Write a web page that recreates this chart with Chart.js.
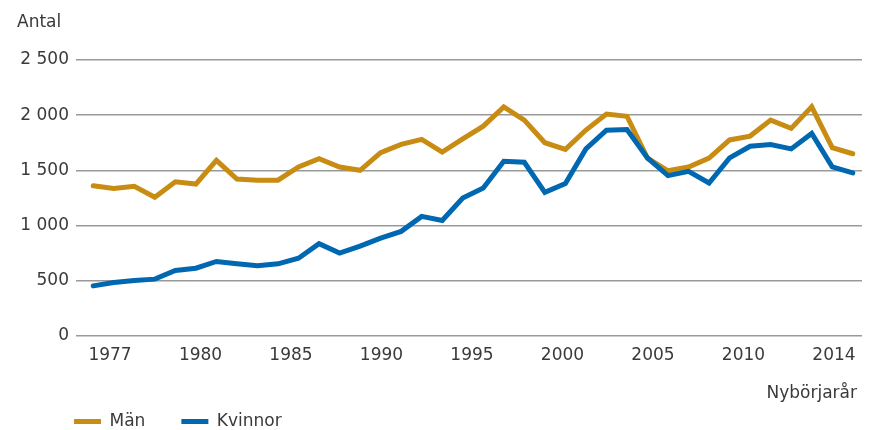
<!DOCTYPE html>
<html>
<head>
<meta charset="utf-8">
<script src="https://cdn.jsdelivr.net/npm/chart.js@4"></script>
<style>
  html, body { margin: 0; padding: 0; background: #fff; }
  canvas { display: block; }
</style>
</head>
<body>
<canvas id="chart" width="871" height="430"></canvas>
<script>
// Nybörjare per år, 1977-2014
const years = [
  1977, 1978, 1979, 1980, 1981, 1982, 1983, 1984, 1985, 1986,
  1987, 1988, 1989, 1990, 1991, 1992, 1993, 1994, 1995, 1996,
  1997, 1998, 1999, 2000, 2001, 2002, 2003, 2004, 2005, 2006,
  2007, 2008, 2009, 2010, 2011, 2012, 2013, 2014
];
const men = [
  1360, 1335, 1355, 1255, 1395, 1375, 1590, 1420, 1410, 1410,
  1530, 1605, 1530, 1500, 1660, 1735, 1780, 1665, 1785, 1900,
  2075, 1955, 1750, 1690, 1865, 2010, 1990, 1610, 1495, 1530,
  1610, 1775, 1810, 1955, 1880, 2075, 1705, 1650
];
const women = [
  452, 482, 500, 513, 591, 612, 673, 652, 634, 652,
  703, 834, 749, 812, 885, 946, 1082, 1045, 1249, 1340,
  1582, 1573, 1300, 1379, 1694, 1864, 1870, 1612, 1452, 1491,
  1385, 1612, 1718, 1734, 1694, 1834, 1531, 1476
];
// labels under the axis are spread evenly, not at their years
const tickLabels = ["1977", "1980", "1985", "1990", "1995", "2000", "2005", "2010", "2014"];
const yTitle = "Antal";
const xTitle = "Nybörjarår";

const textColor = "#3a3a3a";
const menColor = "#c98c13";
const womenColor = "#0067b1";

Chart.defaults.font.family = '"DejaVu Sans", sans-serif';
Chart.defaults.font.size = 17;
Chart.defaults.color = textColor;

// "Antal" over the y axis, "Nybörjarår" under the x axis,
// and the legend pushed in under the plot
const axisNotes = {
  id: "axisNotes",
  afterLayout(chart) {
    chart.legend.left = 38;
  },
  afterDraw(chart) {
    const ctx = chart.ctx;
    ctx.save();
    ctx.font = '17px "DejaVu Sans", sans-serif';
    ctx.fillStyle = textColor;
    ctx.textBaseline = "alphabetic";
    ctx.textAlign = "left";
    ctx.fillText(yTitle, 17, 27);
    ctx.textAlign = "right";
    ctx.fillText(xTitle, 857, 398);
    ctx.restore();
  },
};

function toPoints(values) {
  return values.map((v, i) => ({ x: years[i], y: v }));
}

new Chart(document.getElementById("chart"), {
  type: "line",
  data: {
    datasets: [
      {
        label: "Män",
        data: toPoints(men),
        borderColor: menColor,
        backgroundColor: menColor,
        borderWidth: 5,
        borderCapStyle: "round",
        pointRadius: 0,
        tension: 0,
        order: 1,
      },
      {
        label: "Kvinnor",
        data: toPoints(women),
        borderColor: womenColor,
        backgroundColor: womenColor,
        borderWidth: 5,
        borderCapStyle: "round",
        pointRadius: 0,
        tension: 0,
        order: 0,
      },
    ],
  },
  options: {
    responsive: false,
    animation: false,
    devicePixelRatio: 1,
    layout: {
      padding: { left: 0, right: 9, top: 60, bottom: -10 },
    },
    plugins: {
      tooltip: { enabled: false },
      legend: {
        position: "bottom",
        align: "start",
        labels: {
          usePointStyle: true,
          pointStyle: "line",
          pointStyleWidth: 27,
          padding: 36,
          color: textColor,
          font: { size: 17 },
          sort: (a, b) => a.datasetIndex - b.datasetIndex,
        },
      },
    },
    scales: {
      x: {
        type: "linear",
        display: false,
        min: 1976.16,
        max: 2014.45,
      },
      xt: {
        type: "linear",
        position: "bottom",
        min: -0.376,
        max: 8.31,
        grid: { display: false, drawTicks: false },
        border: { display: false },
        afterBuildTicks: (axis) => {
          axis.ticks = tickLabels.map((t, i) => ({ value: i }));
        },
        afterFit: (axis) => {
          axis.height = 41.3;
        },
        ticks: {
          autoSkip: false,
          maxRotation: 0,
          padding: 10,
          color: textColor,
          font: { size: 17 },
          callback: (value) => tickLabels[value],
        },
      },
      y: {
        min: 0,
        max: 2500,
        afterFit: (axis) => {
          axis.width = 76;
        },
        grid: { color: "#999", lineWidth: 1.5, drawTicks: false },
        border: { display: false },
        ticks: {
          stepSize: 500,
          padding: 7,
          color: textColor,
          font: { size: 17 },
          callback: (value) => String(value).replace(/\B(?=(\d{3})+(?!\d))/g, " "),
        },
      },
    },
  },
  plugins: [axisNotes],
});
</script>
</body>
</html>
